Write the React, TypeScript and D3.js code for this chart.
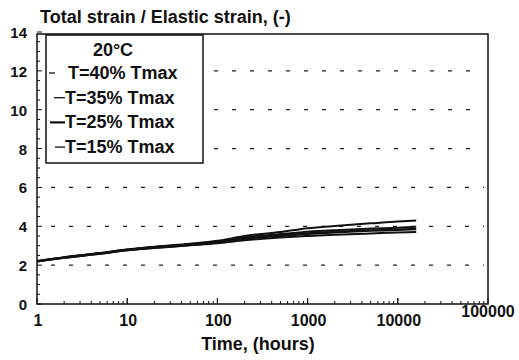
import React, { useRef, useEffect } from "react";
import * as d3 from "d3";

const hours = [1, 2, 5, 10, 20, 50, 100, 200, 500, 1000, 2000, 5000, 10000, 16000];
const series40 = [2.2, 2.4, 2.62, 2.8, 2.95, 3.1, 3.25, 3.5, 3.7, 3.9, 4.02, 4.15, 4.25, 4.3];
const series35 = [2.2, 2.4, 2.61, 2.79, 2.93, 3.08, 3.22, 3.43, 3.6, 3.72, 3.8, 3.88, 3.93, 3.97];
const series25 = [2.2, 2.39, 2.6, 2.78, 2.91, 3.05, 3.18, 3.36, 3.52, 3.62, 3.7, 3.78, 3.82, 3.86];
const series15 = [2.19, 2.38, 2.58, 2.76, 2.88, 3.02, 3.13, 3.28, 3.42, 3.5, 3.57, 3.63, 3.68, 3.7];
const legendLabels = ["T=40% Tmax", "T=35% Tmax", "T=25% Tmax", "T=15% Tmax"];
const yTicks = [0, 2, 4, 6, 8, 10, 12, 14];
const xTicks = [1, 10, 100, 1000, 10000, 100000];

export default function App() {
  const svgRef = useRef<SVGSVGElement>(null);

  useEffect(() => {
    if (!svgRef.current) return;
    const svg = d3.select(svgRef.current);
    svg.selectAll("*").remove();

    const font = "'Liberation Sans', Arial, sans-serif";
    const left = 37, right = 488, top = 32, bottom = 304;

    const x = d3.scaleLog().domain([1, 100000]).range([left, right]);
    const y = d3.scaleLinear().domain([0, 14]).range([bottom, top]);

    const label = (sel: any, size: number) =>
      sel.style("font-family", font).style("font-weight", "bold")
        .style("font-size", `${size}px`)
        .attr("fill", "#111");

    // dashed grid
    const gridStart = (v: number) => (v >= 8 ? 214 : left + 14);
    yTicks.filter(v => v > 0 && v < 14).forEach(v => {
      svg.append("line")
        .attr("x1", gridStart(v)).attr("x2", right - 4)
        .attr("y1", y(v)).attr("y2", y(v))
        .attr("stroke", "#222").attr("stroke-width", 1.3)
        .attr("stroke-dasharray", "4,14");
    });

    // frame
    svg.append("rect")
      .attr("x", left).attr("y", y(14) + 2)
      .attr("width", right - left).attr("height", bottom - y(14) - 2)
      .attr("fill", "none").attr("stroke", "#111").attr("stroke-width", 1.5);

    // y minor ticks
    d3.range(0, 14.01, 0.5).forEach(v => {
      svg.append("line")
        .attr("x1", left).attr("x2", left + (v % 2 === 0 ? 5 : 3))
        .attr("y1", y(v)).attr("y2", y(v))
        .attr("stroke", "#111").attr("stroke-width", 1);
    });
    // x minor ticks (log)
    for (let d = 1; d < 100000; d *= 10) {
      for (let k = 1; k <= 10; k++) {
        const v = d * k;
        svg.append("line")
          .attr("x1", x(v)).attr("x2", x(v))
          .attr("y1", bottom).attr("y2", bottom - (k === 1 || k === 10 ? 6 : 3))
          .attr("stroke", "#111").attr("stroke-width", 1);
      }
    }

    // tick labels
    yTicks.forEach(v => {
      svg.append("text")
        .attr("x", left - 10).attr("y", y(v) + 6)
        .attr("text-anchor", "end")
        .call(label, 15).text(v);
    });
    xTicks.forEach(v => {
      svg.append("text")
        .attr("x", x(v) + (v === 100000 ? 0 : 1)).attr("y", bottom + (v === 100000 ? 13 : 22))
        .attr("text-anchor", "middle")
        .call(label, 16).text(v);
    });

    // titles
    svg.append("text")
      .attr("x", 40).attr("y", 23)
      .call(label, 18).text("Total strain / Elastic strain, (-)");
    svg.append("text")
      .attr("x", 258).attr("y", 350)
      .attr("text-anchor", "middle")
      .call(label, 18).text("Time, (hours)");

    // data lines
    const line = d3.line<number>()
      .x((_, i) => x(hours[i]))
      .y(d => y(d))
      .curve(d3.curveMonotoneX);
    [series15, series25, series35, series40].forEach((s, i) => {
      svg.append("path")
        .datum(s)
        .attr("fill", "none")
        .attr("stroke", "#111")
        .attr("stroke-width", i === 1 ? 2.6 : 2)
        .attr("d", line);
    });

    // legend
    const lg = svg.append("g");
    lg.append("rect")
      .attr("x", 46).attr("y", 35).attr("width", 157).attr("height", 128)
      .attr("fill", "#fff").attr("stroke", "#111").attr("stroke-width", 1.5);
    lg.append("text")
      .attr("x", 113).attr("y", 56)
      .attr("text-anchor", "middle")
      .call(label, 18).text("20°C");
    const markStart = [49, 54, 50, 55];
    const markEnd = [55, 65, 65, 65];
    legendLabels.forEach((lab, i) => {
      const ly = 79 + i * 24.7;
      lg.append("line")
        .attr("x1", markStart[i]).attr("x2", markEnd[i])
        .attr("y1", ly - 6).attr("y2", ly - 6)
        .attr("stroke", "#111").attr("stroke-width", i === 2 ? 2.2 : 1.3);
      lg.append("text")
        .attr("x", i === 0 ? 68 : 65).attr("y", ly)
        .call(label, 18).text(lab);
    });
  }, []);

  return (
    <svg
      ref={svgRef}
      width={519}
      height={360}
      style={{ position: "absolute", left: 0, top: 0, background: "#fff" }}
    />
  );
}
